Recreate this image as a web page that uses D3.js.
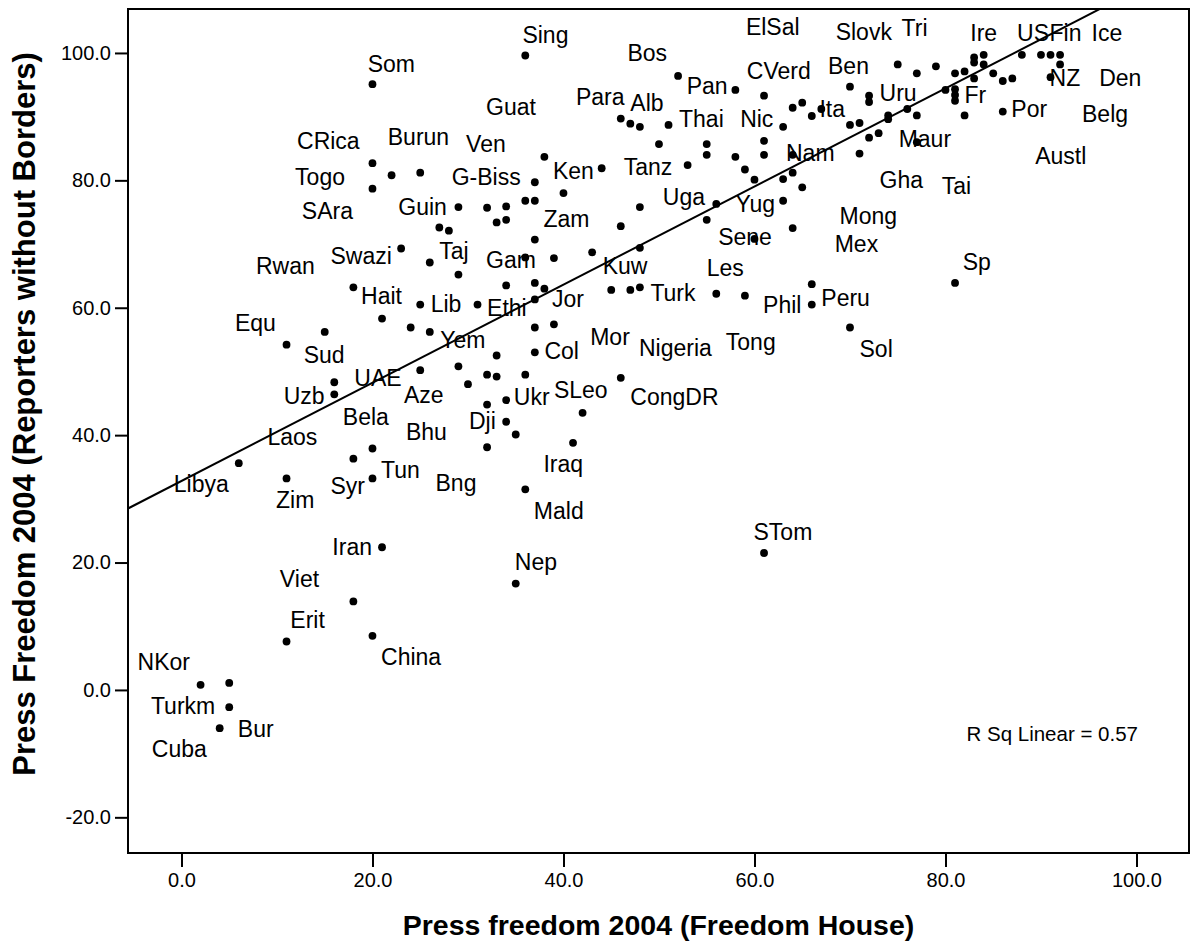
<!DOCTYPE html>
<html><head><meta charset="utf-8">
<script src="https://cdn.jsdelivr.net/npm/d3@7"></script>
<style>
body{margin:0;background:#fff}
svg{display:block}
text{font-family:"Liberation Sans",Arial,Helvetica,sans-serif;fill:#000}
</style>
</head><body>
<svg id="chart" width="1191" height="951"></svg>
<script>
// ---- data ----
const xTicks = [0, 20, 40, 60, 80, 100];
const yTicks = [-20, 0, 20, 40, 60, 80, 100];
const xTitle = "Press freedom 2004 (Freedom House)";
const yTitle = "Press Freedom 2004 (Reporters without Borders)";
const rsqText = "R Sq Linear = 0.57";

// point values: Freedom House (x) and Reporters without Borders (y)
const pointX = [
  20,20,22,25,20,29,32,27,28,23,26,29,18,
  36,52,58,61,46,47,48,51,50,55,55,58,61,61,63,64,65,66,67,64,
  38,44,37,40,36,37,34,33,34,53,59,60,63,64,65,63,56,55,48,46,64,60,37,36,39,43,48,34,37,38,45,47,48,56,66,
  75,77,79,83,84,83,84,81,82,83,85,86,87,88,90,91,92,92,91,70,72,72,80,81,81,81,86,82,77,76,74,74,70,71,72,73,77,71,81,
  59,66,70,61,
  25,21,24,26,15,11,16,16,25,20,18,6,11,20,21,
  31,37,37,39,33,37,29,30,32,33,36,46,34,32,42,34,35,32,41,36,
  18,20,11,2,5,5,4,35
];
const pointY = [
  95.1,82.7,80.8,81.2,78.7,75.8,75.7,72.6,72.1,69.3,67.1,65.2,63.2,
  99.6,96.4,94.2,93.3,89.7,88.9,88.4,88.7,85.7,85.7,84.0,83.7,86.2,84.0,88.4,91.4,92.2,90.1,91.2,84.0,
  83.7,81.9,79.7,78.0,76.8,76.8,75.9,73.4,73.8,82.4,81.7,80.1,80.2,81.2,78.9,76.8,76.3,73.8,75.8,72.8,72.5,70.8,70.7,67.9,67.8,68.7,69.4,63.5,63.9,63.0,62.8,62.8,63.2,62.2,63.7,
  98.2,96.8,97.9,99.3,99.7,98.5,98.2,96.8,97.1,96.0,96.8,95.6,96.0,99.7,99.7,99.7,99.7,98.2,96.2,94.7,93.3,92.3,94.2,94.3,93.4,92.5,90.8,90.2,90.2,91.2,90.2,89.6,88.7,89.0,86.7,87.4,86.0,84.2,63.9,
  61.9,60.5,56.9,21.5,
  60.5,58.3,56.9,56.2,56.2,54.2,48.3,46.4,50.2,37.9,36.3,35.6,33.2,33.2,22.4,
  60.5,61.3,56.9,57.4,52.5,53.0,50.8,48.0,49.5,49.2,49.5,49.0,45.5,44.8,43.5,42.1,40.1,38.1,38.8,31.5,
  13.9,8.5,7.6,0.8,1.1,-2.7,-6.0,16.7
];

// case labels and where they sit (data units)
const labelNames = ["Som","CRica","Burun","Ven","Togo","G-Biss","SAra","Guin","Swazi","Taj","Rwan","Guat",
  "Sing","Bos","ElSal","CVerd","Pan","Para","Alb","Thai","Nic","Nam","Ken","Tanz","Uga","Yug","Zam","Sene","Gam","Kuw","Les","Mex","Ita","Turk",
  "Slovk","Tri","Ire","US","Fin","Ice","Ben","Uru","NZ","Den","Fr","Por","Belg","Maur","Austl","Gha","Tai","Mong","Sp",
  "Phil","Peru","Tong","Sol","STom","Nigeria","CongDR",
  "Hait","Equ","Sud","UAE","Uzb","Aze","Bela","Bhu","Laos","Tun","Libya","Syr","Zim","Iran",
  "Lib","Ethi","Jor","Yem","Col","Mor","Ukr","SLeo","Dji","Bng","Iraq","Mald",
  "Viet","Erit","China","NKor","Turkm","Bur","Cuba","Nep"];
const labelX = [19.5,12.1,21.6,29.8,11.9,28.3,12.6,22.7,15.6,27.0,7.8,31.9,
  35.7,46.7,59.1,59.2,52.9,41.3,47.0,52.1,58.5,63.3,38.9,46.3,50.4,58.0,37.9,56.2,31.9,44.1,55.0,68.4,66.8,49.1,
  68.5,75.4,82.6,87.5,90.9,95.3,67.7,73.1,90.9,96.1,82.0,86.9,94.3,75.1,89.4,73.1,79.6,68.9,81.8,
  60.9,67.0,57.0,71.0,59.9,47.9,47.0,
  18.8,5.6,12.8,18.1,10.7,23.3,16.9,23.5,9.0,20.9,-0.8,15.6,9.9,15.8,
  26.1,32.0,38.8,27.1,38.0,42.8,34.8,39.0,30.1,26.6,37.9,36.9,
  10.3,11.4,20.9,-4.6,-3.2,5.9,-3.1,34.9];
const labelY = [97.0,84.9,85.6,84.4,79.2,79.2,74.0,74.5,66.9,67.7,65.3,90.2,
  101.5,98.7,102.8,95.9,93.5,91.8,90.9,88.4,88.4,83.1,80.2,80.9,76.2,75.1,72.7,69.9,66.2,65.3,65.0,68.7,89.9,61.0,
  102.1,102.6,101.9,101.9,101.9,101.9,96.7,92.4,94.8,94.8,92.1,89.9,89.1,85.2,82.6,78.8,77.9,73.2,65.9,
  59.1,60.3,53.3,52.2,23.5,52.5,44.7,
  60.6,56.4,51.4,47.7,44.9,45.1,41.6,39.2,38.5,33.3,31.0,30.8,28.6,21.2,
  59.4,58.7,60.1,53.7,51.9,54.1,44.8,45.8,40.9,31.3,34.2,26.8,
  16.1,9.7,3.9,3.1,-3.7,-7.4,-10.5,18.8];

// linear fit line
const fitIntercept = 32.8;
const fitSlope = 0.7706;
const rsqPos = [82.2, -8.0];

// ---- drawing ----
const svg = d3.select("#chart");
const L = 128, R = 1189, T = 9, B = 853;
const x = d3.scaleLinear().domain([-5.6, 105.5]).range([L, R]);
const y = d3.scaleLinear().domain([-25.6, 106.9]).range([B, T]);

svg.append("defs").append("clipPath").attr("id","clip")
  .append("rect").attr("x",L).attr("y",T).attr("width",R-L).attr("height",B-T);

// axes
const fmt = d => d.toFixed(1);
const gx = svg.append("g").attr("transform",`translate(0,${B})`)
  .call(d3.axisBottom(x).tickValues(xTicks).tickFormat(fmt).tickSize(14).tickPadding(6));
const gy = svg.append("g").attr("transform",`translate(${L},0)`)
  .call(d3.axisLeft(y).tickValues(yTicks).tickFormat(fmt).tickSize(13).tickPadding(4));
[gx,gy].forEach(g=>{
  g.select(".domain").remove();
  g.selectAll(".tick line").attr("stroke","#000").attr("stroke-width",2);
  g.selectAll(".tick text").attr("font-size",20).attr("font-family",'"Liberation Sans",Arial,sans-serif').attr("fill","#000");
});

// fit line
const xd = x.domain();
svg.append("line").attr("clip-path","url(#clip)")
  .attr("x1", x(xd[0])).attr("y1", y(fitIntercept + fitSlope*xd[0]))
  .attr("x2", x(xd[1])).attr("y2", y(fitIntercept + fitSlope*xd[1]))
  .attr("stroke","#000").attr("stroke-width",2);

// points
svg.append("g").selectAll("circle").data(d3.range(pointX.length)).join("circle")
  .attr("cx", i => x(pointX[i])).attr("cy", i => y(pointY[i])).attr("r",3.9).attr("fill","#000");

// labels
svg.append("g").selectAll("text").data(d3.range(labelNames.length)).join("text")
  .attr("x", i => x(labelX[i])).attr("y", i => y(labelY[i]))
  .attr("font-size",23).text(i => labelNames[i]);

// R sq annotation
svg.append("text").attr("x", x(rsqPos[0])).attr("y", y(rsqPos[1]))
  .attr("font-size",20.5).text(rsqText);

// frame
svg.append("rect").attr("x",L).attr("y",T).attr("width",R-L).attr("height",B-T)
  .attr("fill","none").attr("stroke","#000").attr("stroke-width",2);

// titles
svg.append("text").attr("x",(L+R)/2).attr("y",935).attr("text-anchor","middle")
  .attr("font-size",28.5).attr("font-weight","bold").text(xTitle);
svg.append("text").attr("transform","translate(35,414) rotate(-90)").attr("text-anchor","middle")
  .attr("font-size",31).attr("font-weight","bold").text(yTitle);
</script>
</body></html>
